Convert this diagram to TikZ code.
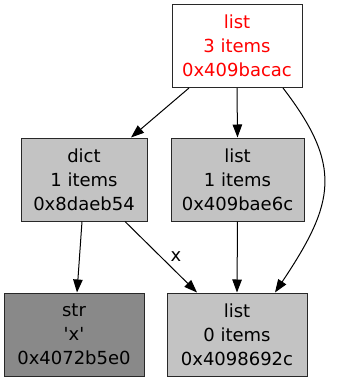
\documentclass[tikz,border=0pt]{standalone}
\usepackage{fontspec}
\setmainfont{DejaVu Sans}[Ligatures=TeXOff]
\usepackage{tikz}
\definecolor{objred}{RGB}{255,0,0}
\definecolor{objgray}{RGB}{195,195,195}
\definecolor{objdark}{RGB}{137,137,137}
\definecolor{objborder}{RGB}{40,40,40}
\usetikzlibrary{positioning}
\usetikzlibrary{arrows.meta}
\tikzset{ref/.style={draw=black,line width=1pt,-{Triangle[length=13pt,width=9.5pt]}}}

\begin{document}
\begin{tikzpicture}[x=1pt,y=-1pt,objNode/.style={rectangle,draw=objborder,line width=1pt,fill=objgray,align=center,inner sep=0pt,minimum height=83pt,font=\fontsize{18}{24}\selectfont}]
	\fill[white] (0,0) rectangle (330,381);
	\node[objNode,fill=white,text=objred,minimum width=130pt] (top) at (237,46) {list\\3 items\\0x409bacac};
	\node[objNode,minimum width=126pt] (dict) at (84,179.5) {dict\\1 items\\0x8daeb54};
	\node[objNode,minimum width=133pt] (list1) at (237.5,179.5) {list\\1 items\\0x409bae6c};
	\node[objNode,fill=objdark,minimum width=140pt] (str) at (74,334.5) {str\\'x'\\0x4072b5e0};
	\node[objNode,minimum width=140pt] (list0) at (237,334.5) {list\\0 items\\0x4098692c};
	\draw[ref] ([xshift=-48pt]top.south) -- ([xshift=47pt]dict.north);
	\draw[ref] (top.south) -- (list1.north);
	\draw[ref] ([xshift=46pt]top.south) .. controls (343,166) and (335,203) .. ([xshift=38pt]list0.north);
	\draw[ref] ([xshift=-2pt]dict.south) -- ([xshift=3pt]str.north);
	\draw[ref] ([xshift=41pt]dict.south) -- node[right=9pt,inner sep=0pt,font=\fontsize{18}{24}\selectfont] (xlabel) {x} ([xshift=-40pt]list0.north);
	\draw[ref] (list1.south) -- (list0.north);
      \end{tikzpicture}
\end{document}
